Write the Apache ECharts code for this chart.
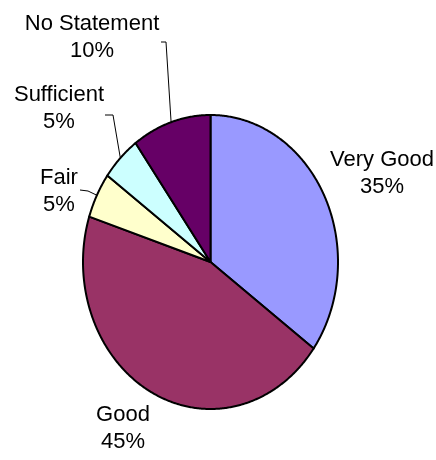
<!DOCTYPE html>
<html><head><meta charset="utf-8">
<script src="https://cdn.jsdelivr.net/npm/echarts/dist/echarts.min.js"></script>
<style>html,body{margin:0;padding:0;background:#fff}#c{width:436px;height:460px}</style>
</head><body><div id="c"></div>
<script>
// ---- data ----
const categories = ['Very Good', 'Good', 'Fair', 'Sufficient', 'No Statement'];
const values = [35, 45, 5, 5, 10];

// ---- style / layout ----
const colors = ['#9999FF', '#993366', '#FFFFCC', '#CCFFFF', '#660066'];
const labelCenters = [[382, 173], [123, 428], [59, 191], [59, 108], [92, 37]];
const leaderPoints = [null, null, [[80, 190], [88, 191]], [[105, 115], [113, 115]], [[161, 42], [166, 42]]];

const total = values.reduce((a, b) => a + b, 0);
const starts = [];
let acc = 0;
values.forEach(v => { starts.push(acc); acc += v; });

const chart = echarts.init(document.getElementById('c'), null, { renderer: 'canvas' });
chart.setOption({
  animation: false,
  backgroundColor: '#fff',
  grid: { left: 83, top: 115, width: 255, height: 294 },
  xAxis: { type: 'value', min: -1, max: 1, show: false },
  yAxis: { type: 'value', min: -1, max: 1, show: false },
  series: [{
    type: 'custom',
    coordinateSystem: 'cartesian2d',
    clip: false,
    data: values.map((v, i) => ({ name: categories[i], value: [starts[i], v] })),
    renderItem: (params, api) => {
      const i = params.dataIndex;
      const v0 = api.value(0), v = api.value(1);
      const s = v0 / total * 2 * Math.PI;
      const e = (v0 + v) / total * 2 * Math.PI;
      const pts = [api.coord([0, 0])];
      const n = Math.max(2, Math.ceil((e - s) / (Math.PI / 360)));
      for (let k = 0; k <= n; k++) {
        const a = s + (e - s) * k / n;
        pts.push(api.coord([Math.sin(a), Math.cos(a)]));
      }
      const children = [{
        type: 'polygon', shape: { points: pts },
        style: { fill: colors[i], stroke: '#000', lineWidth: 2, lineJoin: 'round' }
      }];
      const m = (s + e) / 2;
      const edge = api.coord([Math.sin(m), Math.cos(m)]);
      if (leaderPoints[i]) {
        children.push({
          type: 'polyline', z2: 5,
          shape: { points: leaderPoints[i].concat([edge]) },
          style: { stroke: '#000', lineWidth: 1, fill: null }
        });
      }
      children.push({
        type: 'text', z2: 10,
        x: labelCenters[i][0], y: labelCenters[i][1],
        style: {
          text: categories[i] + '\n' + Math.round(v / total * 100) + '%',
          fill: '#000', fontSize: 22, fontFamily: 'Arial, "Liberation Sans", sans-serif',
          align: 'center', verticalAlign: 'middle', lineHeight: 27
        }
      });
      return { type: 'group', children: children };
    }
  }]
});
</script></body></html>
